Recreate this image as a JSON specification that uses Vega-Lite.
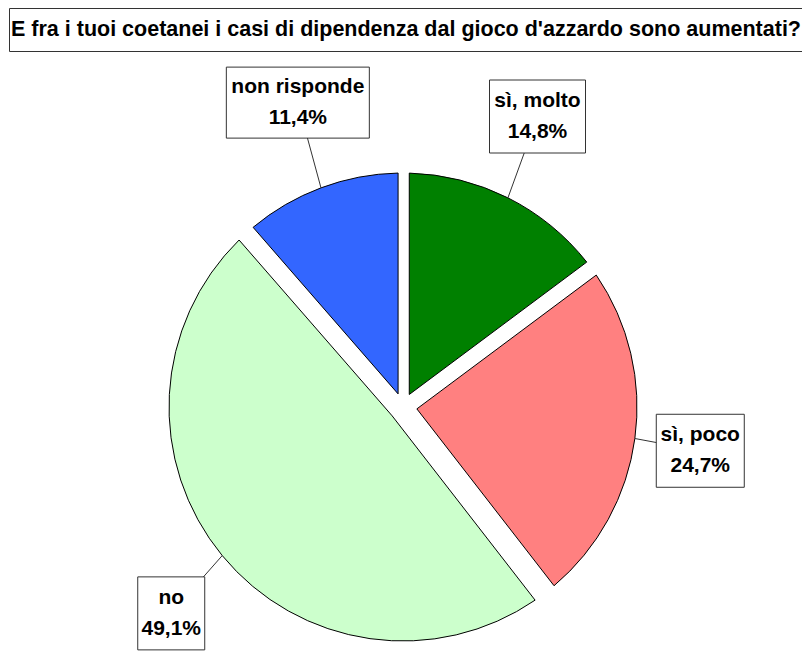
{
  "$schema": "https://vega.github.io/schema/vega-lite/v6.json",
  "padding": {"left": 8, "top": 7, "right": 0, "bottom": 0},
  "spacing": 0,
  "config": {"view": {"stroke": null}},
  "vconcat": [
    {
      "width": 794,
      "height": 43,
      "view": {"stroke": "#333333", "strokeWidth": 1},
      "data": {"values": [{"t": "E fra i tuoi coetanei i casi di dipendenza dal gioco d'azzardo sono aumentati?"}]},
      "mark": {"type": "text", "font": "Liberation Sans", "fontWeight": "bold", "fontSize": 21.5, "align": "center", "baseline": "middle", "color": "black"},
      "encoding": {"text": {"field": "t", "type": "nominal"}}
    },
    {
      "width": 794,
      "height": 607,
      "data": {"values": [
        {"ord": 1, "label": "sì, molto", "pct": 14.8},
        {"ord": 2, "label": "sì, poco", "pct": 24.7},
        {"ord": 3, "label": "no", "pct": 49.1},
        {"ord": 4, "label": "non risponde", "pct": 11.4}
      ]},
      "transform": [
        {"joinaggregate": [{"op": "sum", "field": "pct", "as": "total"}]},
        {"window": [{"op": "sum", "field": "pct", "as": "cum"}], "sort": [{"field": "ord", "order": "ascending"}], "frame": [null, 0]},
        {"calculate": "2*PI*(datum.cum - datum.pct/2)/datum.total", "as": "mid"},
        {"calculate": "300*sin(datum.mid)", "as": "lx"},
        {"calculate": "325*cos(datum.mid)", "as": "ly"},
        {"calculate": "234*sin(datum.mid)", "as": "ex"},
        {"calculate": "234*cos(datum.mid)", "as": "ey"},
        {"calculate": "[datum.label, replace(format(datum.pct, '.1f'), '.', ',') + '%']", "as": "txt"}
      ],
      "layer": [
        {
          "mark": {"type": "arc", "outerRadius": 234, "innerRadius": 14,
            "padAngle": {"expr": "2*asin(14*sin(PI*datum.pct/datum.total)/sqrt(14*14+234*234))"},
            "stroke": "black", "strokeWidth": 1},
          "encoding": {
            "theta": {"field": "pct", "type": "quantitative", "stack": true},
            "order": {"field": "ord", "type": "quantitative"},
            "color": {"field": "label", "type": "nominal", "legend": null,
              "scale": {"domain": ["sì, molto", "sì, poco", "no", "non risponde"], "range": ["#008000", "#FF8080", "#CCFFCC", "#3366FF"]}},
            "x": {"datum": 0, "type": "quantitative", "scale": {"domain": [-394, 400]}, "axis": null},
            "y": {"datum": 0, "type": "quantitative", "scale": {"domain": [-252, 355]}, "axis": null}
          }
        },
        {
          "mark": {"type": "rule", "color": "#333333", "strokeWidth": 1},
          "encoding": {
            "x": {"field": "ex", "type": "quantitative", "scale": {"domain": [-394, 400]}, "axis": null},
            "y": {"field": "ey", "type": "quantitative", "scale": {"domain": [-252, 355]}, "axis": null},
            "x2": {"field": "lx"},
            "y2": {"field": "ly"}
          }
        },
        {
          "mark": {"type": "point", "filled": true, "fill": "white", "stroke": "#333333", "strokeWidth": 1, "opacity": 1, "size": 10000},
          "encoding": {
            "x": {"field": "lx", "type": "quantitative", "scale": {"domain": [-394, 400]}, "axis": null},
            "y": {"field": "ly", "type": "quantitative", "scale": {"domain": [-252, 355]}, "axis": null},
            "shape": {"field": "label", "type": "nominal", "legend": null,
              "scale": {"domain": ["sì, molto", "sì, poco", "no", "non risponde"],
                "range": ["M-0.96,-0.73H0.96V0.73H-0.96Z", "M-0.88,-0.73H0.88V0.73H-0.88Z", "M-0.67,-0.73H0.67V0.73H-0.67Z", "M-1.43,-0.71H1.43V0.71H-1.43Z"]}}
          }
        },
        {
          "mark": {"type": "text", "font": "Liberation Sans", "fontWeight": "bold", "fontSize": 21, "lineHeight": 31, "dy": -15.5, "align": "center", "baseline": "middle", "color": "black"},
          "encoding": {
            "x": {"field": "lx", "type": "quantitative", "scale": {"domain": [-394, 400]}, "axis": null},
            "y": {"field": "ly", "type": "quantitative", "scale": {"domain": [-252, 355]}, "axis": null},
            "text": {"field": "txt"}
          }
        }
      ]
    }
  ]
}
